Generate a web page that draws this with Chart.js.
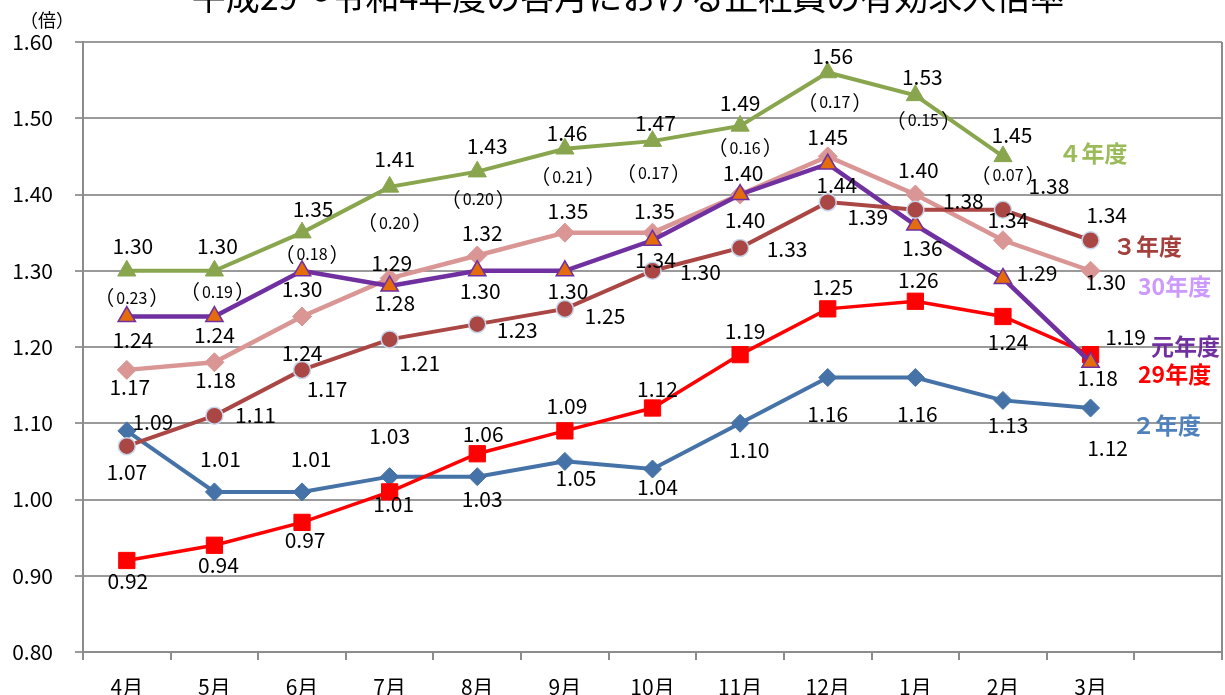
<!DOCTYPE html>
<html>
<head>
<meta charset="utf-8">
<script src="https://cdn.jsdelivr.net/npm/chart.js@4/dist/chart.umd.min.js"></script>
<style>
  html, body { margin: 0; padding: 0; background: #fff; }
  #wrap { width: 1225px; height: 695px; position: relative; overflow: hidden; }
</style>
</head>
<body>
<div id="wrap"><canvas id="c" width="1225" height="695"></canvas></div>
<script>
// 月別の正社員有効求人倍率（年度別）
const chartTitle = '平成29〜令和4年度の各月における正社員の有効求人倍率';
const unitLabel = '（倍）';
const months = ['4月', '5月', '6月', '7月', '8月', '9月', '10月', '11月', '12月', '1月', '2月', '3月', ''];

const fyR4  = [1.30, 1.30, 1.35, 1.41, 1.43, 1.46, 1.47, 1.49, 1.56, 1.53, 1.45];
const fyR3  = [1.07, 1.11, 1.17, 1.21, 1.23, 1.25, 1.30, 1.33, 1.39, 1.38, 1.38, 1.34];
const fyR1  = [1.24, 1.24, 1.30, 1.28, 1.30, 1.30, 1.34, 1.40, 1.44, 1.36, 1.29, 1.18];
const fyH30 = [1.17, 1.18, 1.24, 1.29, 1.32, 1.35, 1.35, 1.40, 1.45, 1.40, 1.34, 1.30];
const fyH29 = [0.92, 0.94, 0.97, 1.01, 1.06, 1.09, 1.12, 1.19, 1.25, 1.26, 1.24, 1.19];
const fyR2  = [1.09, 1.01, 1.01, 1.03, 1.03, 1.05, 1.04, 1.10, 1.16, 1.16, 1.13, 1.12];

const seriesNames = ['４年度', '３年度', '元年度', '30年度', '29年度', '２年度'];

const yMin = 0.8, yMax = 1.6, yStep = 0.1;

const FONT = '"Noto Sans CJK JP", "Noto Sans", sans-serif';

// label placement (pixel offsets from each marker)
const offR4  = [[6,-24],[3,-24],[11,-23],[5,-27],[10,-25],[2,-15],[3,-18],[0,-22],[5,-16],[7,-18],[9,-21]];
const gapOffR4 = [[5,27],[3,21],[10,22],[5,36],[1,28],[3,28],[1,32],[5,22],[7,30],[8,25],[5,19]];
const offR3  = [[0,26],[41,0],[25,20],[30,24],[40,6],[40,8],[48,2],[47,2],[40,15],[48,-8],[46,-23],[16,-25]];
const offR1  = [[6,24],[0,19],[0,19],[5,17],[3,21],[3,21],[3,20],[5,26],[9,21],[7,23],[34,-5],[7,16]];
const offH30 = [[3,18],[1,18],[0,37],[2,-15],[5,-22],[3,-21],[2,-21],[3,-21],[0,-19],[3,-24],[5,-20],[15,12]];
const offH29 = [[1,21],[4,20],[3,18],[4,13],[6,-19],[2,-24],[5,-19],[5,-23],[5,-21],[3,-21],[5,26],[35,-17]];
const offR2  = [[26,-8],[6,-32],[9,-32],[0,-40],[5,23],[11,17],[5,18],[9,27],[0,37],[2,37],[5,25],[17,40]];

function lineSet(name, data, opts) {
  return Object.assign({
    label: name,
    data: data,
    fill: false,
    tension: 0,
    clip: false
  }, opts);
}

// first dataset is drawn on top
const datasets = [
  lineSet(seriesNames[0], fyR4, {
    borderColor: '#89A54E', borderWidth: 4,
    pointStyle: 'triangle', pointRadius: 10.5,
    pointBackgroundColor: '#89A54E', pointBorderColor: '#89A54E', pointBorderWidth: 1,
    labelOffsets: offR4, gapOffsets: gapOffR4, gapBase: fyR3,
    tagColor: '#9BBB59', tagOffset: [90, -3]
  }),
  lineSet(seriesNames[1], fyR3, {
    borderColor: '#AA4643', borderWidth: 4,
    pointStyle: 'circle', pointRadius: 8.5,
    pointBackgroundColor: '#AA4643', pointBorderColor: '#C6D6EC', pointBorderWidth: 1.5,
    labelOffsets: offR3,
    tagColor: '#A3403D', tagOffset: [57, 6]
  }),
  lineSet(seriesNames[2], fyR1, {
    borderColor: '#7030A0', borderWidth: 4.5,
    pointStyle: 'triangle', pointRadius: 10,
    pointBackgroundColor: '#E46C0A', pointBorderColor: '#7030A0', pointBorderWidth: 1.5,
    labelOffsets: offR1,
    tagColor: '#7030A0', tagOffset: [95, -16]
  }),
  lineSet(seriesNames[3], fyH30, {
    borderColor: '#D99694', borderWidth: 4.5,
    pointStyle: 'rectRot', pointRadius: 9.5,
    pointBackgroundColor: '#D99694', pointBorderColor: '#D99694', pointBorderWidth: 1,
    labelOffsets: offH30,
    tagColor: '#CC99FF', tagOffset: [84, 16]
  }),
  lineSet(seriesNames[4], fyH29, {
    borderColor: '#FF0000', borderWidth: 3.5,
    pointStyle: 'rect', pointRadius: 11.5,
    pointBackgroundColor: '#FF0000', pointBorderColor: '#FF0000', pointBorderWidth: 1,
    labelOffsets: offH29,
    tagColor: '#FF0000', tagOffset: [84, 20]
  }),
  lineSet(seriesNames[5], fyR2, {
    borderColor: '#4572A7', borderWidth: 4,
    pointStyle: 'rectRot', pointRadius: 9,
    pointBackgroundColor: '#4572A7', pointBorderColor: '#4572A7', pointBorderWidth: 1,
    labelOffsets: offR2,
    tagColor: '#4F81BD', tagOffset: [76, 17]
  })
];

// text centred on a point by its digit/ideograph body rather than the em box
function centeredText(ctx, text, x, y, size, weight, color, lift) {
  ctx.font = (weight || 'normal') + ' ' + size + 'px ' + FONT;
  ctx.fillStyle = color || '#000';
  ctx.textAlign = 'center';
  ctx.textBaseline = 'alphabetic';
  ctx.fillText(text, x, y + size * (lift || 0.36));
}

const annotations = {
  id: 'annotations',
  afterDraw(chart) {
    const ctx = chart.ctx;
    const area = chart.chartArea;
    ctx.save();

    // right edge of the plot frame
    ctx.strokeStyle = '#8c8c8c';
    ctx.lineWidth = 2;
    ctx.beginPath();
    ctx.moveTo(area.right, area.top);
    ctx.lineTo(area.right, area.bottom + 8);
    ctx.stroke();

    // title (runs past the top edge of the page)
    ctx.font = '34px ' + FONT;
    ctx.fillStyle = '#000';
    ctx.textAlign = 'center';
    ctx.textBaseline = 'alphabetic';
    ctx.fillText(chartTitle, 628, 10);

    // unit
    centeredText(ctx, unitLabel, 47, 20, 18, 'normal', '#000', 0.38);

    chart.data.datasets.forEach((ds, di) => {
      const meta = chart.getDatasetMeta(di);
      let last = null;
      meta.data.forEach((pt, i) => {
        const v = ds.data[i];
        if (v == null) return;
        last = pt;
        const o = ds.labelOffsets[i];
        centeredText(ctx, v.toFixed(2), pt.x + o[0], pt.y + o[1], 21, 'normal', '#000');

        if (ds.gapOffsets) {
          const g = ds.gapOffsets[i];
          const gx = pt.x + g[0], gy = pt.y + g[1];
          const num = (v - ds.gapBase[i]).toFixed(2);
          ctx.font = '16px ' + FONT;
          const nw = ctx.measureText(num).width;
          centeredText(ctx, num, gx, gy, 16, 'normal', '#000');
          ctx.font = '20px ' + FONT;
          ctx.textAlign = 'left';
          const base = gy + 20 * 0.38;
          const ml = ctx.measureText('（');
          ctx.fillText('（', gx - nw / 2 - 2 - ml.actualBoundingBoxRight, base);
          const mr = ctx.measureText('）');
          ctx.fillText('）', gx + nw / 2 + 2 + mr.actualBoundingBoxLeft, base);
        }
      });
      if (last && ds.tagOffset) {
        centeredText(ctx, ds.label, last.x + ds.tagOffset[0], last.y + ds.tagOffset[1], 23, 'bold', ds.tagColor, 0.38);
      }
    });
    ctx.restore();
  }
};

new Chart(document.getElementById('c'), {
  type: 'line',
  data: { labels: months, datasets: datasets },
  options: {
    responsive: false,
    animation: false,
    events: [],
    layout: { autoPadding: false, padding: { top: 42, right: 3, left: 0, bottom: 0 } },
    plugins: { legend: { display: false }, tooltip: { enabled: false }, title: { display: false } },
    scales: {
      x: {
        type: 'category',
        offset: true,
        grid: { offset: true, drawOnChartArea: false, drawTicks: true, tickLength: 8, color: '#8c8c8c', lineWidth: 2 },
        border: { color: '#8c8c8c', width: 2 },
        ticks: { font: { family: FONT, size: 21 }, color: '#000', padding: 14, maxRotation: 0, autoSkip: false },
        afterFit(s) { s.height = 43; s.paddingLeft = 0; s.paddingRight = 0; }
      },
      y: {
        min: yMin, max: yMax,
        ticks: { stepSize: yStep, callback: v => Number(v).toFixed(2), font: { family: FONT, size: 21 }, color: '#000', padding: 22 },
        grid: { color: '#9a9a9a', lineWidth: 2, tickLength: 8 },
        border: { color: '#8c8c8c', width: 2 },
        afterFit(s) { s.width = 83; }
      }
    }
  },
  plugins: [annotations]
});
</script>
</body>
</html>
